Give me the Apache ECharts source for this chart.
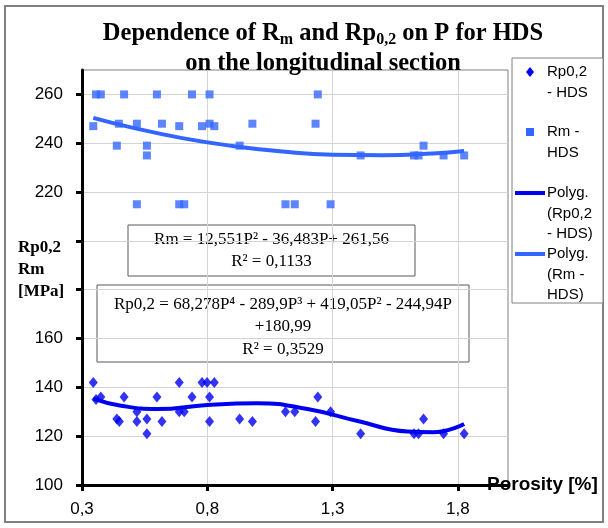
<!DOCTYPE html>
<html>
<head>
<meta charset="utf-8" />
<title>Rm and Rp0,2 vs porosity</title>
<script src="https://cdn.jsdelivr.net/npm/echarts@6/dist/echarts.min.js"></script>
</head>
<body style="margin:0;background:#fff">
<div id="chart" style="width:608px;height:528px"></div>
<script type="text/javascript">
// values: [porosity %, MPa]
var rmPoints = [
  [0.345, 247], [0.356, 260], [0.375, 260], [0.439, 239], [0.447, 248], [0.468, 260],
  [0.519, 248], [0.519, 215], [0.559, 239], [0.559, 235], [0.599, 260], [0.619, 248],
  [0.688, 247], [0.688, 215], [0.708, 215], [0.739, 260], [0.779, 247], [0.809, 260],
  [0.809, 248], [0.828, 247], [0.929, 239], [0.98, 248], [1.112, 215], [1.149, 215],
  [1.232, 248], [1.241, 260], [1.292, 215], [1.412, 235], [1.625, 235], [1.643, 235],
  [1.663, 239], [1.743, 235], [1.825, 235]
];
var rpPoints = [
  [0.345, 142], [0.356, 135], [0.375, 136], [0.439, 127], [0.449, 126], [0.468, 136],
  [0.519, 130], [0.519, 126], [0.559, 127], [0.559, 121], [0.599, 136], [0.619, 126],
  [0.688, 142], [0.688, 130], [0.708, 130], [0.739, 136], [0.779, 142], [0.799, 142],
  [0.809, 136], [0.809, 126], [0.828, 142], [0.929, 127], [0.98, 126], [1.112, 130],
  [1.149, 130], [1.232, 126], [1.241, 136], [1.292, 130], [1.412, 121], [1.625, 121],
  [1.643, 121], [1.663, 127], [1.743, 121], [1.825, 121]
];
// trend curves as drawn in the picture
var rmTrend = [
  [0.345, 250.4], [0.5, 246.4], [0.7, 242.1], [0.9, 238.9], [1.1, 236.6],
  [1.3, 235.3], [1.5, 235.1], [1.7, 235.8], [1.825, 236.8]
];
var rpTrend = [
  [0.345, 135.4], [0.45, 132.6], [0.6, 131.1], [0.8, 132.8], [1.0, 133.5],
  [1.2, 131.1], [1.4, 126.2], [1.6, 121.9], [1.7, 121.6], [1.825, 125.0]
];
var xTicks = [0.3, 0.8, 1.3, 1.8];
var yTicks = [100, 120, 140, 160, 180, 200, 220, 240, 260];
// 180 and 200 are hidden behind the axis title in the picture
var yLabels = [100, 120, 140, 160, 220, 240, 260];

var rpColor = '#0000f0';
var rmColor = '#3366ff';
var serif = '"Liberation Serif", "Times New Roman", serif';
var sans = '"Liberation Sans", Arial, sans-serif';

var chart = echarts.init(document.getElementById('chart'));

function legendItem(y, icon, lines) {
  var els = [];
  if (icon === 'diamond') {
    els.push({ type: 'polygon', shape: { points: [[530, y - 5], [534, y], [530, y + 5], [526, y]] }, style: { fill: rpColor } });
  } else if (icon === 'square') {
    els.push({ type: 'rect', shape: { x: 526, y: y - 4, width: 8, height: 8 }, style: { fill: rmColor } });
  } else {
    els.push({ type: 'line', shape: { x1: 515, y1: y, x2: 545, y2: y }, style: { stroke: icon, lineWidth: 4 } });
  }
  lines.forEach(function (t, i) {
    els.push({ type: 'text', x: 547, y: y + i * 20.5, style: { text: t, font: '15px ' + sans, fill: '#000', verticalAlign: 'middle' } });
  });
  return els;
}

var legendEls = [{ type: 'rect', shape: { x: 512, y: 58, width: 91, height: 245 }, style: { fill: '#fff', stroke: '#808080', lineWidth: 1 } }]
  .concat(legendItem(72, 'diamond', ['Rp0,2', '- HDS']))
  .concat(legendItem(132, 'square', ['Rm -', 'HDS']))
  .concat(legendItem(193, rpColor, ['Polyg.', '(Rp0,2', '- HDS)']))
  .concat(legendItem(254, rmColor, ['Polyg.', '(Rm -', 'HDS)']));

var option = {
  animation: false,
  backgroundColor: '#fff',
  title: {
    left: 318,
    textAlign: 'center',
    top: 14,
    text: '{a|Dependence of R}{s|m}{a| and Rp}{s|0,2}{a| on P for HDS}\n{a|on the longitudinal section}',
    textStyle: {
      rich: {
        a: { fontFamily: serif, fontWeight: 'bold', fontSize: 24.5, lineHeight: 30, color: '#000' },
        s: { fontFamily: serif, fontWeight: 'bold', fontSize: 16, lineHeight: 30, padding: [11, 0, 0, 0], color: '#000' }
      }
    }
  },
  grid: { left: 82, right: 100, top: 70, bottom: 43, outerBoundsMode: 'none', show: true, borderColor: '#808080', borderWidth: 1 },
  xAxis: {
    type: 'value',
    min: 0.3,
    max: 2.0,
    interval: 0.5,
    name: 'Porosity [%]',
    nameLocation: 'end',
    nameGap: -21,
    nameMoveOverlap: false,
    nameTextStyle: { fontFamily: sans, fontWeight: 'bold', fontSize: 19, color: '#000', align: 'left', verticalAlign: 'middle', padding: [0, 0, 14, 0] },
    axisLine: { lineStyle: { color: '#000', width: 3 } },
    axisTick: { customValues: xTicks, length: 6, lineStyle: { color: '#000', width: 3 } },
    axisLabel: {
      customValues: xTicks, margin: 16, fontFamily: sans, fontSize: 17, color: '#000',
      formatter: function (v) { return String(v).replace('.', ','); }
    },
    splitLine: { lineStyle: { color: '#d4d4d4', width: 1 } }
  },
  yAxis: {
    type: 'value',
    min: 100,
    max: 270,
    interval: 20,
    name: '{n|Rp0,2}\n{n|Rm}\n{n|[MPa]}\n{e|}',
    nameLocation: 'middle',
    nameRotate: 0,
    nameGap: 20,
    nameMoveOverlap: false,
    nameTextStyle: {
      rich: {
        n: { fontFamily: serif, fontWeight: 'bold', fontSize: 17, lineHeight: 22, width: 44, align: 'left', color: '#000' },
        e: { fontSize: 12, lineHeight: 16, height: 16, width: 44 }
      }
    },
    axisLine: { show: true, lineStyle: { color: '#000', width: 3 } },
    axisTick: { show: true, customValues: yTicks, length: 6, lineStyle: { color: '#000', width: 3 } },
    axisLabel: { customValues: yLabels, margin: 19, fontFamily: sans, fontSize: 17, color: '#000' },
    splitLine: { lineStyle: { color: '#d4d4d4', width: 1 } }
  },
  series: [
    { name: 'Rm - HDS', type: 'scatter', data: rmPoints, symbol: 'rect', symbolSize: 8, itemStyle: { color: rmColor } },
    { name: 'Rp0,2 - HDS', type: 'scatter', data: rpPoints, symbol: 'diamond', symbolSize: [9, 11], itemStyle: { color: rpColor } },
    { name: 'Polyg. (Rm - HDS)', type: 'line', data: rmTrend, smooth: true, showSymbol: false, lineStyle: { color: rmColor, width: 4 } },
    { name: 'Polyg. (Rp0,2 - HDS)', type: 'line', data: rpTrend, smooth: true, showSymbol: false, lineStyle: { color: rpColor, width: 4 } }
  ],
  graphic: [
    { type: 'rect', shape: { x: 5, y: 6, width: 598, height: 516 }, style: { fill: null, stroke: '#808080', lineWidth: 2 }, silent: true },
    {
      type: 'group', children: [
        { type: 'rect', shape: { x: 128, y: 225, width: 287, height: 51 }, style: { fill: '#fff', stroke: '#595959', lineWidth: 1 } },
        { type: 'text', x: 271.5, y: 250.5, style: { text: 'Rm = 12,551P\u00b2 - 36,483P+ 261,56\nR\u00b2 = 0,1133', font: '17px ' + serif, lineHeight: 22, fill: '#000', align: 'center', verticalAlign: 'middle' } },
        { type: 'rect', shape: { x: 97, y: 285, width: 372, height: 77 }, style: { fill: '#fff', stroke: '#595959', lineWidth: 1 } },
        { type: 'text', x: 283, y: 327, style: { text: 'Rp0,2 = 68,278P\u2074 - 289,9P\u00b3 + 419,05P\u00b2 - 244,94P\n+180,99\nR\u00b2 = 0,3529', font: '17px ' + serif, lineHeight: 22.5, fill: '#000', align: 'center', verticalAlign: 'middle' } }
      ]
    },
    { type: 'group', children: legendEls }
  ]
};
chart.setOption(option);
</script>
</body>
</html>
